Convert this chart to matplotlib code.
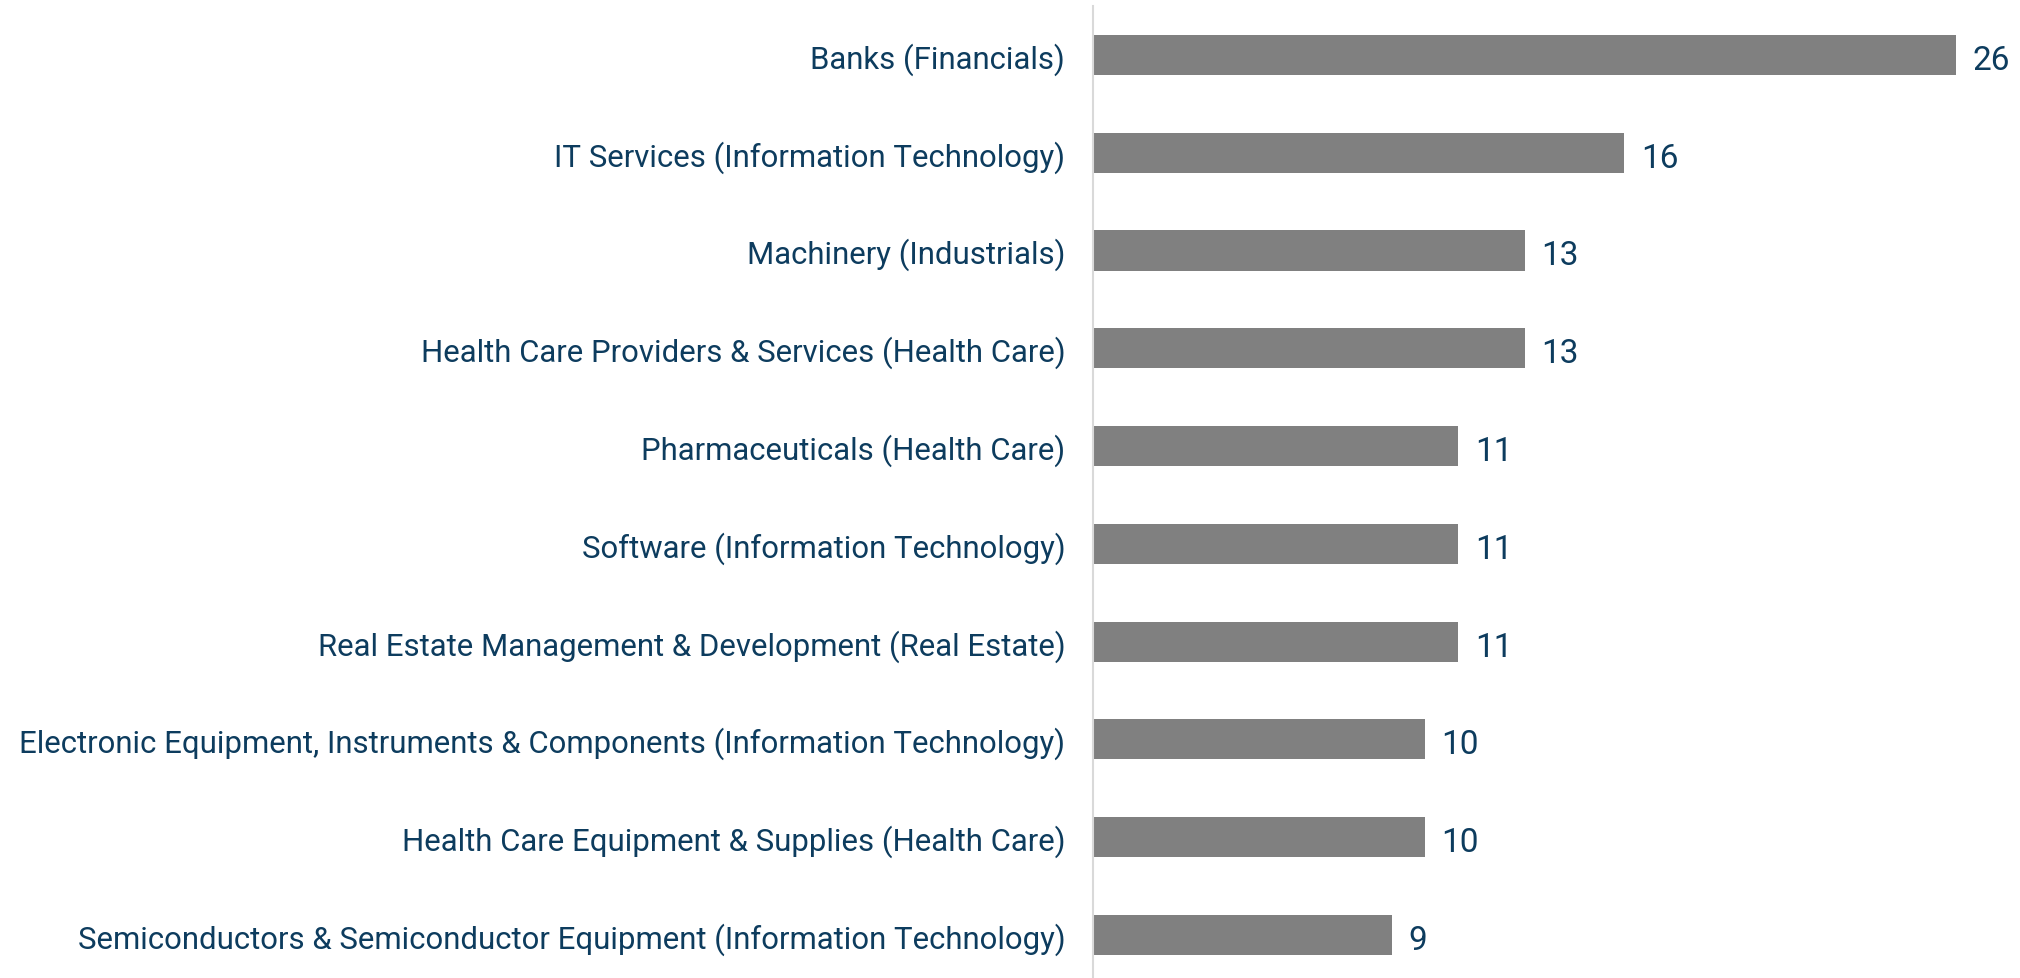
import matplotlib
matplotlib.use("Agg")
import matplotlib.pyplot as plt

categories = [
    "Banks (Financials)",
    "IT Services (Information Technology)",
    "Machinery (Industrials)",
    "Health Care Providers & Services (Health Care)",
    "Pharmaceuticals (Health Care)",
    "Software (Information Technology)",
    "Real Estate Management & Development (Real Estate)",
    "Electronic Equipment, Instruments & Components (Information Technology)",
    "Health Care Equipment & Supplies (Health Care)",
    "Semiconductors & Semiconductor Equipment (Information Technology)",
]
values = [26, 16, 13, 13, 11, 11, 11, 10, 10, 9]

TEXT = "#0d3c5e"
BAR = "#808080"

plt.rcParams['font.family'] = ['Roboto', 'DejaVu Sans']

W, H = 2020, 979
fig = plt.figure(figsize=(W / 100, H / 100), dpi=100)
left = 1093 / W
top_px, bot_px = 7, 979
ax = fig.add_axes([left, 1 - bot_px / H, 1 - left, (bot_px - top_px) / H])

y = list(range(len(categories)))
ax.barh(y, values, height=0.41, color=BAR)
ax.set_yticks(y)
ax.set_yticklabels(categories, fontsize=22.4, color=TEXT)
ax.tick_params(axis='y', length=0, pad=20)
ax.set_xticks([])
ax.set_ylim(9.44, -0.5)
ax.set_xlim(0, (W - 1093) / 33.2)
for s in ['top', 'right', 'bottom']:
    ax.spines[s].set_visible(False)
ax.spines['left'].set_color('#d9d9d9')
ax.spines['left'].set_linewidth(1.5)

for yi, v in zip(y, values):
    ax.annotate(str(v), (v, yi), xytext=(12, -1), textcoords='offset points',
                va='center_baseline', ha='left', fontsize=24, color=TEXT)

fig.savefig("out.png", dpi=100, facecolor='white')
